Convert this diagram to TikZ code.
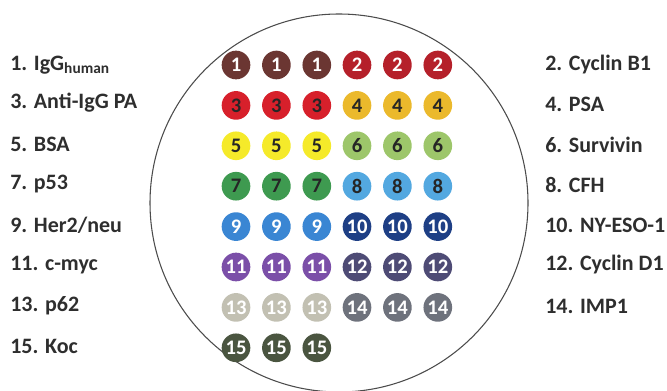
\documentclass[tikz,border=0pt]{standalone}
\usepackage{fontspec}
\setmainfont{Carlito}
\begin{document}
\begin{tikzpicture}[x=0.75pt,y=-0.75pt,
  lab/.style={anchor=west,inner sep=0pt,font=\bfseries\fontsize{16.5}{18}\selectfont,text=black!82},
  dot/.style={circle,minimum size=21.5pt,inner sep=0pt,font=\bfseries\fontsize{15.5}{16}\selectfont}]
\definecolor{c1}{HTML}{6B3632}
\definecolor{c2}{HTML}{B5202A}
\definecolor{c3}{HTML}{D7202B}
\definecolor{c4}{HTML}{EBB92C}
\definecolor{c5}{HTML}{F5EA2A}
\definecolor{c6}{HTML}{9DC66A}
\definecolor{c7}{HTML}{3E9A50}
\definecolor{c8}{HTML}{53A8E0}
\definecolor{c9}{HTML}{3A86D3}
\definecolor{c10}{HTML}{1E3F85}
\definecolor{c11}{HTML}{7B4FA8}
\definecolor{c12}{HTML}{4E4B75}
\definecolor{c13}{HTML}{C2C0B2}
\definecolor{c14}{HTML}{6E727C}
\definecolor{c15}{HTML}{4A5540}
\useasboundingbox (0,0) rectangle (667,391);
\node[circle,draw=black!70,line width=0.8pt,minimum size=283.5pt,inner sep=0pt] (plate) at (339,203) {};
% dots
\foreach \r/\a/\ta/\b/\tb in {0/1/white/2/white,1/3/black!85/4/black!85,2/5/black!85/6/black!85,3/7/black!85/8/black!85,4/9/white/10/white,5/11/white/12/white,6/13/white/14/white}{
  \foreach \c in {0,1,2}{
    \node[dot,fill=c\a,text=\ta] (d\a-\c) at ({236+40.4*\c},{65+40.4*\r}) {\a};
    \node[dot,fill=c\b,text=\tb] (d\b-\c) at ({357+40.4*\c},{65+40.4*\r}) {\b};
  }
}
\foreach \c in {0,1,2}{
  \node[dot,fill=c15,text=white] (d15-\c) at ({236+40.4*\c},{347.8}) {15};
}
% labels left
\node[lab] (l1) at (10,65) {1. IgG\textsubscript{human}};
\node[lab] (l3) at (10,103) {3. Anti-IgG PA};
\node[lab] (l5) at (10,144) {5. BSA};
\node[lab] (l7) at (10,184) {7. p53};
\node[lab] (l9) at (10,225) {9. Her2/neu};
\node[lab] (l11) at (10,265) {11. c-myc};
\node[lab] (l13) at (10,306) {13. p62};
\node[lab] (l15) at (10,346) {15. Koc};
% labels right
\node[lab] (l2) at (545,65) {2. Cyclin B1};
\node[lab] (l4) at (545,104) {4. PSA};
\node[lab] (l6) at (545,145) {6. Survivin};
\node[lab] (l8) at (545,185) {8. CFH};
\node[lab] (l10) at (545,225) {10. NY-ESO-1};
\node[lab] (l12) at (545,265) {12. Cyclin D1};
\node[lab] (l14) at (545,306) {14. IMP1};
\end{tikzpicture}
\end{document}
